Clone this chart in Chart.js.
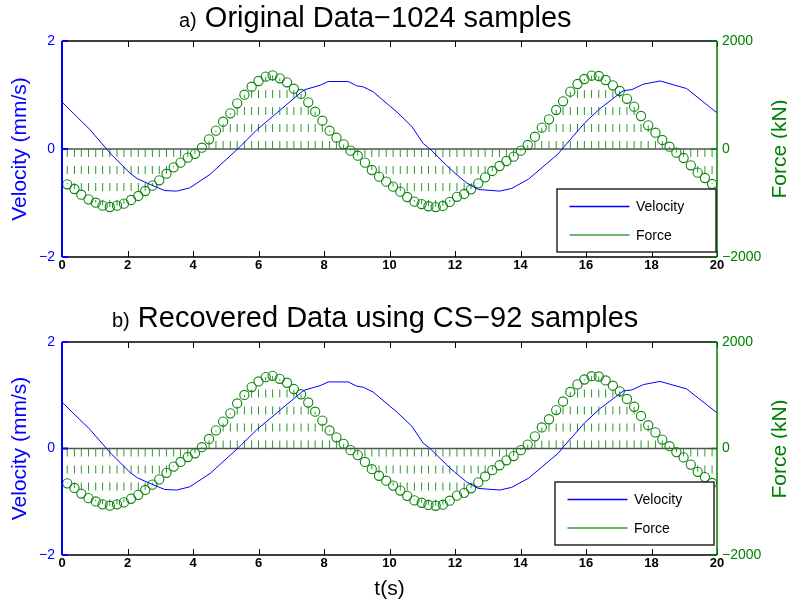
<!DOCTYPE html>
<html>
<head>
<meta charset="utf-8">
<script src="https://cdn.jsdelivr.net/npm/chart.js@4"></script>
<style>
  html, body { margin: 0; padding: 0; background: #fff; }
  body { width: 787px; height: 604px; position: relative; overflow: hidden;
         font-family: "Liberation Sans", Helvetica, Arial, sans-serif; }
  .panel { position: absolute; left: 0; width: 787px; }
  .panel canvas { display: block; }
  .title { position: absolute; white-space: nowrap; color: #000; font-size: 29px; line-height: 29px; }
  .title small { font-size: 20px; }
  .ylab-right { position: absolute; white-space: nowrap; color: #008000; font-size: 21px; line-height: 21px;
                transform: translate(-50%, -50%) rotate(-90deg); }
</style>
</head>
<body>
<div class="panel" style="top:0;height:300px">
  <canvas id="top" width="787" height="300"></canvas>
</div>
<div class="panel" style="top:300px;height:304px">
  <canvas id="bottom" width="787" height="304"></canvas>
</div>
<div class="title" style="left:179px;top:3px"><small>a)</small> Original Data&minus;1024 samples</div>
<div class="title" style="left:112px;top:303px"><small>b)</small> Recovered Data using CS&minus;92 samples</div>
<div class="ylab-right" style="left:778px;top:149px">Force (kN)</div>
<div class="ylab-right" style="left:778px;top:449px">Force (kN)</div>

<script>
// tick labels
const timeTicks = [0, 2, 4, 6, 8, 10, 12, 14, 16, 18, 20];
const velocityTicks = [-2, 0, 2];
const forceTicks = [-2000, 0, 2000];

// force samples (stem plot), kN
const sampleTimes = [
  0.16, 0.38, 0.59, 0.81, 1.03, 1.24, 1.46, 1.68, 1.89, 2.11,
  2.33, 2.54, 2.76, 2.97, 3.19, 3.41, 3.62, 3.84, 4.06, 4.27,
  4.49, 4.70, 4.92, 5.14, 5.35, 5.57, 5.79, 6.00, 6.22, 6.43,
  6.65, 6.87, 7.08, 7.30, 7.52, 7.73, 7.95, 8.17, 8.38, 8.60,
  8.81, 9.03, 9.25, 9.46, 9.68, 9.90, 10.11, 10.33, 10.54, 10.76,
  10.98, 11.19, 11.41, 11.63, 11.84, 12.06, 12.28, 12.49, 12.71, 12.92,
  13.14, 13.36, 13.57, 13.79, 14.01, 14.22, 14.44, 14.65, 14.87, 15.09,
  15.30, 15.52, 15.74, 15.95, 16.17, 16.39, 16.60, 16.82, 17.03, 17.25,
  17.47, 17.68, 17.90, 18.12, 18.33, 18.55, 18.76, 18.98, 19.20, 19.41,
  19.63, 19.85
];
const forceValues = [
  -654, -741, -846, -932, -994, -1049, -1074, -1049, -1012, -944,
  -870, -778, -679, -580, -457, -340, -253, -160, -90, 24,
  179, 340, 506, 660, 846, 1006, 1154, 1259, 1340, 1364,
  1309, 1235, 1117, 1019, 864, 691, 524, 339, 209, 87,
  -31, -124, -253, -389, -512, -605, -697, -790, -889, -975,
  -1019, -1060, -1075, -1055, -980, -885, -833, -747, -636, -525,
  -407, -315, -222, -142, -31, 74, 228, 395, 549, 722,
  883, 1062, 1204, 1296, 1358, 1352, 1278, 1179, 1074, 930,
  784, 611, 438, 302, 167, 43, -68, -167, -302, -438,
  -537, -648
];

// velocity trace, mm/s
const velocityTimes = [
  0.00, 0.85, 1.36, 1.52, 2.08, 2.30, 2.74, 3.14, 3.50, 3.90,
  4.52, 5.38, 5.94, 6.66, 7.32, 7.42, 7.88, 8.13, 8.74, 9.00,
  9.20, 9.50, 10.02, 10.20, 10.68, 11.03, 11.24, 11.75, 12.00, 12.36,
  12.71, 13.37, 13.73, 14.24, 15.15, 15.31, 15.97, 16.43, 17.14, 17.40,
  17.75, 18.26, 19.07, 20.00
];
const velocityValues = [
  0.87, 0.36, 0.00, -0.11, -0.45, -0.55, -0.67, -0.77, -0.78, -0.72,
  -0.47, 0.01, 0.35, 0.72, 1.06, 1.10, 1.18, 1.25, 1.25, 1.17,
  1.15, 1.06, 0.79, 0.70, 0.42, 0.10, 0.00, -0.31, -0.45, -0.63,
  -0.75, -0.78, -0.73, -0.56, -0.09, 0.03, 0.49, 0.75, 1.08, 1.10,
  1.20, 1.26, 1.12, 0.67
];

const BLUE = "#0000ff";
const GREEN = "#008000";
const STEM_GREEN = "#2f962f";

Chart.defaults.font.family = '"Liberation Sans", Helvetica, Arial, sans-serif';

const minus = (v) => String(v).replace("-", "\u2212");

// box, inward ticks and zero line like a matlab axes
const frame = {
  id: "frame",
  beforeDatasetsDraw(chart) {
    const { ctx, chartArea: a, scales } = chart;
    const y0 = scales.y2.getPixelForValue(0);
    ctx.save();
    ctx.strokeStyle = "#505050";
    ctx.lineWidth = 1.6;
    ctx.beginPath();
    ctx.moveTo(a.left, y0);
    ctx.lineTo(a.right, y0);
    ctx.stroke();
    ctx.restore();
  },
  afterDatasetsDraw(chart) {
    const { ctx, chartArea: a, scales } = chart;
    const tl = 6;
    ctx.save();
    ctx.setLineDash([]);
    ctx.strokeStyle = "#000";
    ctx.lineWidth = 1;
    ctx.beginPath();
    scales.x.ticks.forEach((t) => {
      const px = Math.round(scales.x.getPixelForValue(t.value)) + 0.5;
      ctx.moveTo(px, a.bottom);
      ctx.lineTo(px, a.bottom - tl);
      ctx.moveTo(px, a.top);
      ctx.lineTo(px, a.top + tl);
    });
    ctx.stroke();

    ctx.lineWidth = 1.5;
    ctx.beginPath();
    ctx.moveTo(a.left, a.top);
    ctx.lineTo(a.right, a.top);
    ctx.moveTo(a.left, a.bottom);
    ctx.lineTo(a.right, a.bottom);
    ctx.stroke();

    ctx.strokeStyle = BLUE;
    ctx.lineWidth = 2;
    ctx.beginPath();
    ctx.moveTo(a.left, a.top);
    ctx.lineTo(a.left, a.bottom);
    scales.y.ticks.forEach((t) => {
      const py = scales.y.getPixelForValue(t.value);
      ctx.moveTo(a.left, py);
      ctx.lineTo(a.left + tl, py);
    });
    ctx.stroke();

    ctx.strokeStyle = GREEN;
    ctx.lineWidth = 1.5;
    ctx.beginPath();
    ctx.moveTo(a.right, a.top);
    ctx.lineTo(a.right, a.bottom);
    scales.y2.ticks.forEach((t) => {
      const py = scales.y2.getPixelForValue(t.value);
      ctx.moveTo(a.right, py);
      ctx.lineTo(a.right - tl, py);
    });
    ctx.stroke();
    ctx.restore();
  }
};

// legend box inside the plot, lower right
const boxLegend = {
  id: "boxLegend",
  afterDraw(chart, args, opts) {
    const { ctx, chartArea: a } = chart;
    const w = 159, h = 63;
    const x = a.right - opts.right - w;
    const y = a.bottom - opts.bottom - h;
    ctx.save();
    ctx.setLineDash([]);
    ctx.fillStyle = "#fff";
    ctx.fillRect(x, y, w, h);
    ctx.strokeStyle = "#1a1a1a";
    ctx.lineWidth = 1.4;
    ctx.strokeRect(x, y, w, h);
    const items = chart.data.datasets.filter((d) => d.legendColor);
    items.forEach((d, i) => {
      const ly = y + 17.5 + i * 28.5;
      ctx.strokeStyle = d.legendColor;
      ctx.lineWidth = d.legendWidth;
      ctx.beginPath();
      ctx.moveTo(x + 12.5, ly);
      ctx.lineTo(x + 72.5, ly);
      ctx.stroke();
      ctx.fillStyle = "#000";
      ctx.font = '14px "Liberation Sans", Helvetica, Arial, sans-serif';
      ctx.textBaseline = "middle";
      ctx.fillText(d.label, x + 79, ly + 1);
    });
    ctx.restore();
  }
};

function buildStems(times, values) {
  const pts = [];
  times.forEach((t, i) => {
    pts.push({ x: t, y: 0 });
    pts.push({ x: t, y: values[i] });
    pts.push({ x: t, y: null });
  });
  return pts;
}

function makeChart(id, layout) {
  const velocity = velocityTimes.map((t, i) => ({ x: t, y: velocityValues[i] }));
  const force = sampleTimes.map((t, i) => ({ x: t, y: forceValues[i] }));

  return new Chart(document.getElementById(id), {
    type: "line",
    data: {
      datasets: [
        {
          label: "Velocity",
          data: velocity,
          yAxisID: "y",
          borderColor: BLUE,
          borderWidth: 1,
          pointRadius: 0,
          tension: 0,
          legendColor: BLUE,
          legendWidth: 1.5
        },
        {
          label: "Force",
          data: force,
          yAxisID: "y2",
          showLine: false,
          pointStyle: "circle",
          pointRadius: 4.6,
          pointBorderWidth: 1.1,
          pointBorderColor: "#0a850a",
          pointBackgroundColor: "rgba(0,0,0,0)"
        },
        {
          label: "Force",
          data: buildStems(sampleTimes, forceValues),
          yAxisID: "y2",
          borderColor: STEM_GREEN,
          borderWidth: 1,
          borderDash: [8, 9],
          pointRadius: 0,
          spanGaps: false,
          legendColor: "#3a9e3a",
          legendWidth: 1.5
        }
      ]
    },
    options: {
      responsive: false,
      animation: false,
      devicePixelRatio: 1,
      events: [],
      layout: { padding: { top: layout.top, left: 0, right: 0, bottom: 0 } },
      plugins: {
        legend: { display: false },
        tooltip: { enabled: false },
        title: { display: false },
        boxLegend: layout.legend
      },
      scales: {
        x: {
          type: "linear",
          min: 0,
          max: 20,
          afterBuildTicks: (s) => { s.ticks = timeTicks.map((v) => ({ value: v })); },
          afterFit: (s) => { s.height = layout.xHeight; },
          grid: { display: false, drawTicks: false },
          border: { display: false },
          ticks: { color: "#000", font: { size: 13, weight: "bold" }, padding: 1, maxRotation: 0, autoSkip: false },
          title: {
            display: layout.xTitle,
            text: "t(s)",
            color: "#000",
            font: { size: 21 },
            padding: { top: 0, bottom: 2 }
          }
        },
        y: {
          type: "linear",
          position: "left",
          min: -2,
          max: 2,
          afterBuildTicks: (s) => { s.ticks = velocityTicks.map((v) => ({ value: v })); },
          afterFit: (s) => { s.width = 62; },
          grid: { display: false, drawTicks: false },
          border: { display: false },
          ticks: { color: BLUE, font: { size: 14 }, padding: 7, callback: minus },
          title: {
            display: true,
            text: "Velocity (mm/s)",
            color: BLUE,
            font: { size: 21 },
            padding: { top: 8, bottom: 0 }
          }
        },
        y2: {
          type: "linear",
          position: "right",
          min: -2000,
          max: 2000,
          afterBuildTicks: (s) => { s.ticks = forceTicks.map((v) => ({ value: v })); },
          afterFit: (s) => { s.width = 70; },
          grid: { display: false, drawTicks: false },
          border: { display: false },
          ticks: { color: GREEN, font: { size: 14 }, padding: 5, callback: minus }
        }
      }
    },
    plugins: [frame, boxLegend]
  });
}

makeChart("top", { top: 41, xHeight: 43, xTitle: false, legend: { right: 1, bottom: 5 } });
makeChart("bottom", { top: 42, xHeight: 49, xTitle: true, legend: { right: 3, bottom: 10 } });
</script>
</body>
</html>
